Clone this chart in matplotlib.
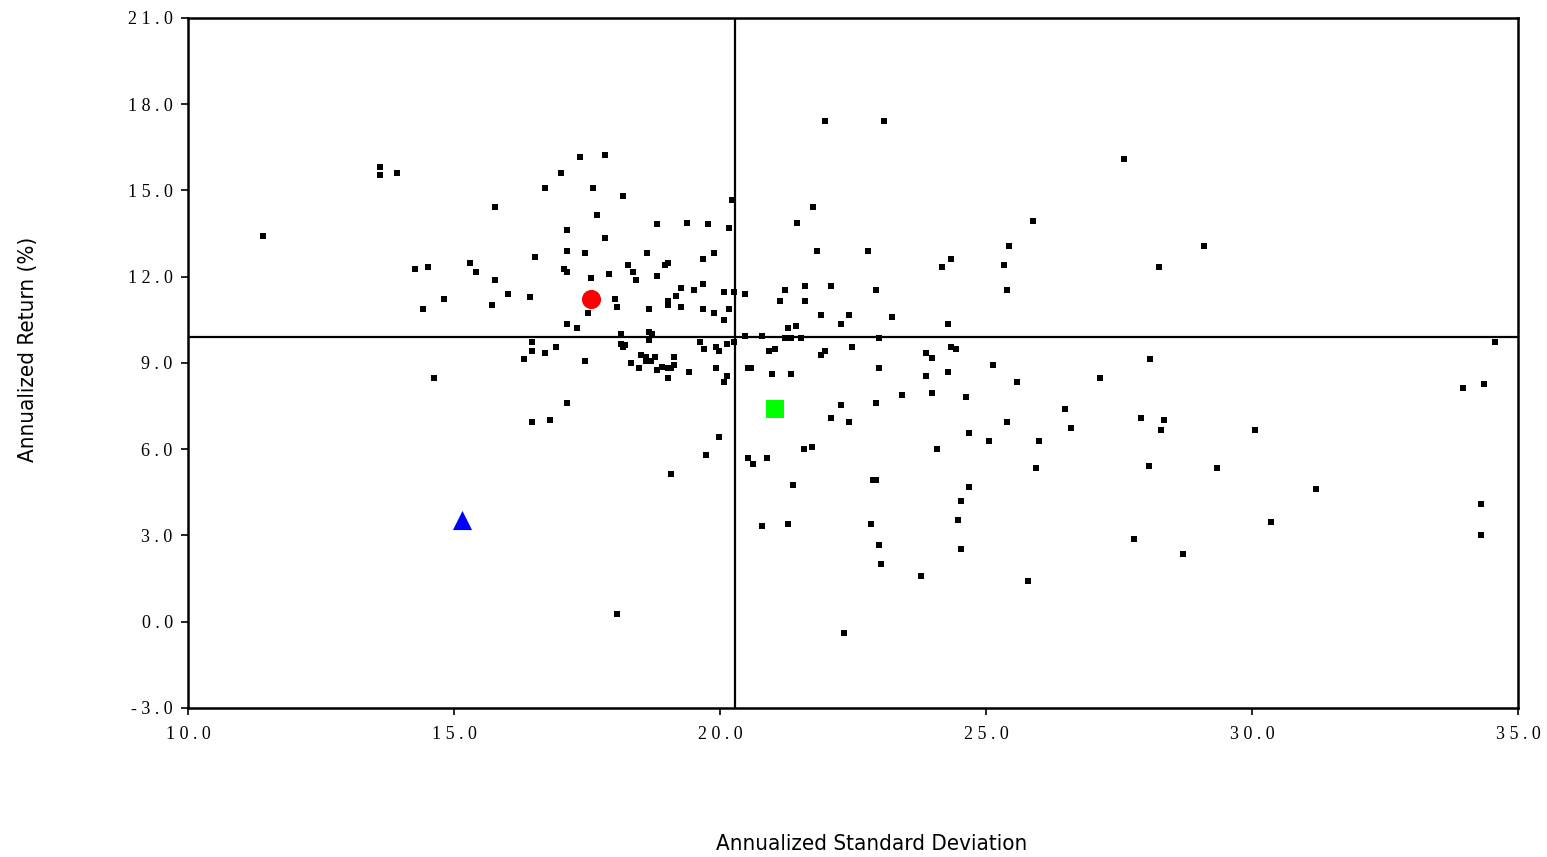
import matplotlib
matplotlib.use('Agg')
import matplotlib.pyplot as plt

# fund universe: annualized std dev (x) and return (y)
fund_sd = [13.61, 13.61, 13.92, 11.41, 14.27, 14.52, 15.31, 15.42, 14.82, 14.42, 14.62,
           17.37, 17.83, 17.02, 16.72, 17.62, 18.17, 15.77, 17.68, 17.12, 17.83, 18.82,
           19.38, 19.78, 20.17, 20.23, 17.12, 17.47, 16.52, 18.63, 19.88, 19.68, 17.07,
           17.13, 18.28, 18.37, 18.43, 18.97, 19.03, 18.82, 17.58, 17.92, 15.77, 19.27,
           19.68, 19.52, 19.18, 19.03, 19.03, 19.27, 20.08, 20.27, 19.68, 19.88, 20.17,
           20.08, 16.02, 16.42, 15.72, 18.03, 18.07, 18.67, 17.52, 17.12, 17.32, 18.13,
           18.67, 18.73, 18.67,
           16.47, 16.47, 16.72, 16.92, 16.32, 17.47, 18.13, 18.18, 18.22, 18.52, 18.61,
           18.78, 18.61, 18.71, 19.13, 18.33, 18.48, 18.82, 18.91, 19.03, 19.08, 19.13,
           19.03, 19.42, 19.63, 19.69, 19.93, 19.99, 20.13, 19.93, 20.13, 20.08, 20.27,
           17.12, 16.47, 16.81, 19.98, 19.73, 19.08, 18.07,
           21.98, 23.09, 21.74, 21.44, 21.83, 22.79, 20.47, 21.23, 21.59, 22.08, 22.94,
           21.13, 21.59, 21.89, 22.43, 23.24, 22.28, 21.28, 21.43, 24.29, 24.18, 24.34,
           25.34, 25.44, 25.39, 20.47, 20.78, 21.23, 21.33, 21.53, 22.99, 20.93, 21.03,
           21.89, 21.98, 22.49, 23.88, 23.99, 24.34, 24.44,
           20.53, 20.59, 20.98, 21.33, 22.98, 23.88, 24.29, 25.14, 25.59, 23.43, 23.99,
           24.63, 22.28, 22.94, 22.09, 22.43, 25.39, 24.68, 25.05, 24.08, 21.58, 21.73,
           20.53, 20.62, 20.88, 21.38, 22.87, 22.93, 24.68, 24.53, 24.48, 20.78, 21.28,
           22.83, 22.98, 24.53, 23.03, 23.78, 25.78, 22.33,
           27.60, 25.89, 29.10, 28.25, 34.57, 28.09, 27.15, 33.96, 34.36, 26.49, 27.91,
           28.35, 26.60, 28.29, 30.05, 25.99, 25.94, 28.06, 29.35, 31.21, 34.31, 30.36,
           34.31, 27.79, 28.70]
fund_ret = [15.83, 15.55, 15.62, 13.43, 12.28, 12.35, 12.49, 12.18, 11.24, 10.89, 8.49,
            16.18, 16.25, 15.60, 15.10, 15.10, 14.82, 14.44, 14.16, 13.64, 13.36, 13.85,
            13.88, 13.85, 13.71, 14.68, 12.91, 12.84, 12.70, 12.84, 12.84, 12.63, 12.28,
            12.18, 12.42, 12.18, 11.90, 12.42, 12.49, 12.04, 11.97, 12.11, 11.90, 11.62,
            11.76, 11.55, 11.34, 11.17, 11.03, 10.96, 11.48, 11.48, 10.89, 10.75, 10.89,
            10.51, 11.41, 11.31, 11.03, 11.24, 10.96, 10.89, 10.75, 10.37, 10.23, 10.02,
            10.09, 10.02, 9.81,
            9.74, 9.43, 9.36, 9.57, 9.15, 9.08, 9.67, 9.57, 9.64, 9.29, 9.22,
            9.22, 9.08, 9.08, 9.22, 9.01, 8.84, 8.77, 8.87, 8.84, 8.84, 8.94,
            8.49, 8.70, 9.74, 9.50, 9.57, 9.43, 9.67, 8.84, 8.56, 8.35, 9.74,
            7.62, 6.96, 7.03, 6.44, 5.81, 5.15, 0.28,
            17.43, 17.43, 14.44, 13.88, 12.91, 12.91, 11.41, 11.55, 11.69, 11.69, 11.55,
            11.17, 11.17, 10.68, 10.68, 10.61, 10.37, 10.23, 10.30, 10.37, 12.35, 12.63,
            12.42, 13.08, 11.55, 9.95, 9.95, 9.88, 9.88, 9.88, 9.88, 9.43, 9.50,
            9.29, 9.43, 9.57, 9.36, 9.18, 9.57, 9.50,
            8.84, 8.84, 8.63, 8.63, 8.84, 8.56, 8.70, 8.94, 8.35, 7.90, 7.97,
            7.83, 7.55, 7.62, 7.10, 6.96, 6.96, 6.58, 6.30, 6.02, 6.02, 6.09,
            5.71, 5.50, 5.71, 4.77, 4.94, 4.94, 4.70, 4.21, 3.55, 3.34, 3.41,
            3.41, 2.68, 2.54, 2.02, 1.60, 1.43, -0.38,
            16.11, 13.95, 13.08, 12.35, 9.74, 9.15, 8.49, 8.14, 8.28, 7.41, 7.10,
            7.03, 6.75, 6.68, 6.68, 6.30, 5.36, 5.43, 5.36, 4.63, 4.11, 3.48,
            3.03, 2.89, 2.37]

# highlighted points
red_pt = (17.58, 11.23)
green_pt = (21.03, 7.40)
blue_pt = (15.15, 3.54)

# median cross lines
med_sd = 20.28
med_ret = 9.89

x_ticks = [10, 15, 20, 25, 30, 35]
y_ticks = [-3, 0, 3, 6, 9, 12, 15, 18, 21]

fig = plt.figure(figsize=(15.47, 8.57), dpi=100)
ax = fig.add_axes([0.1215, 0.1739, 0.8598, 0.8051])

ax.scatter(fund_sd, fund_ret, marker='s', s=17, color='black', linewidths=0, zorder=3)
ax.scatter([red_pt[0]], [red_pt[1]], marker='o', s=190, color='#ff0000', linewidths=0, zorder=4)
ax.scatter([green_pt[0]], [green_pt[1]], marker='s', s=170, color='#00ff00', linewidths=0, zorder=4)
ax.scatter([blue_pt[0]], [blue_pt[1]], marker='^', s=190, color='#0000ff', linewidths=0, zorder=4)

ax.axvline(med_sd, color='black', lw=1.6, zorder=2)
ax.axhline(med_ret, color='black', lw=1.6, zorder=2)

ax.set_xlim(10, 35)
ax.set_ylim(-3, 21)

# spaced-out serif tick labels like the original
ax.set_xticks(x_ticks)
ax.set_xticklabels([' '.join(f'{v:.1f}') for v in x_ticks], family='Liberation Serif', fontsize=13)
ax.set_yticks(y_ticks)
ax.set_yticklabels([' '.join(f'{v:.1f}') for v in y_ticks], family='Liberation Serif', fontsize=13)
ax.tick_params(direction='out', length=5, width=1.2)
ax.tick_params(axis='x', pad=8)
ax.tick_params(axis='y', pad=6)

for sp in ax.spines.values():
    sp.set_linewidth(1.8)

ax.set_xlabel('Annualized Standard Deviation', family='DejaVu Sans', fontstretch='condensed',
              fontsize=16)
ax.set_ylabel('Annualized Return (%)', family='DejaVu Sans', fontstretch='condensed',
              fontsize=16)
ax.xaxis.set_label_coords(0.514, -0.183)
ax.yaxis.set_label_coords(-0.113, 0.519)

fig.savefig('out.png', dpi=100)
